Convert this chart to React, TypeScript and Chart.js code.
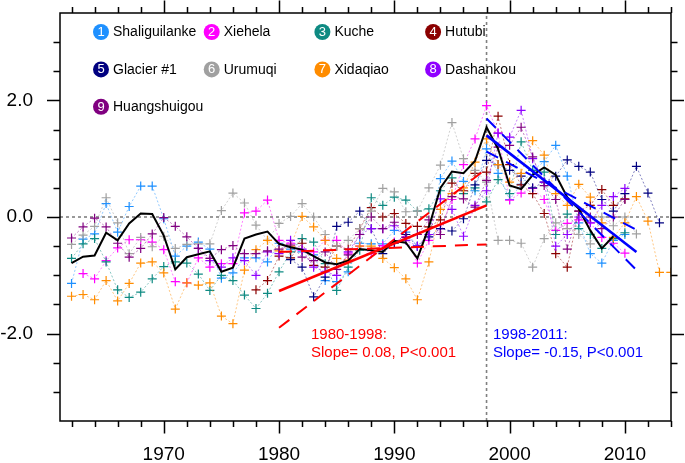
import React, { useEffect, useRef } from 'react';
import { Chart, registerables } from 'chart.js';

Chart.register(...registerables);

// ---------- data ----------
const stationNames = ['Shaliguilanke', 'Xiehela', 'Kuche', 'Hutubi', 'Glacier #1', 'Urumuqi', 'Xidaqiao', 'Dashankou', 'Huangshuigou'];
const stationColors = ['#1E90FF', '#FF00FF', '#0E8A82', '#8B0000', '#000080', '#A0A0A0', '#FF8C00', '#8F00FF', '#800080'];
const stationStartYears = [1962, 1963, 1962, 1978, 1981, 1962, 1962, 1973, 1962];

const shaliguilanke = [-1.14, -0.38, -0.29, 0.23, -0.26, 0.18, 0.53, 0.53, -0.03, -0.67, -0.5, -0.43, -0.55, -1.05, -0.96, -0.7, -0.7, -0.77, -0.45, -0.55, -0.6, -0.65, -1.09, -1.11, -0.94, -0.45, -0.46, -0.46, -0.23, -0.26, -0.5, -0.3, 0.66, 0.96, 0.61, 0.45, 1.17, 0.75, 0.3, 0.56, 0.8, 0.95, 1.23, 0.7, -0.1, -0.63, -0.79, -0.4, -0.3];
const xiehela = [-0.97, -1.06, -0.75, -0.53, -0.39, -0.39, -0.43, -0.56, -1.11, -1.13, -0.7, -0.86, -0.8, -0.8, 0.07, 0.1, 0.29, -0.4, -0.45, -0.57, -0.6, -0.4, -0.4, -0.62, -0.5, -0.63, -0.49, -0.43, -0.34, -0.79, -0.4, -0.2, 0.3, 0.9, 1.34, 1.91, 1.44, 0.29, 0.41, 0.49, 0.3, -0.23, -0.11, -0.05, -0.1, -0.35, -0.45, -0.62];
const kuche = [-0.71, -0.46, -0.37, -0.77, -1.25, -1.38, -1.29, -1.06, -0.85, -0.77, -0.79, -0.98, -1.26, -1.0, -1.09, -1.34, -1.57, -1.31, -0.94, -0.6, -0.37, -0.43, -0.8, -1.26, -0.86, -0.57, 0.33, 0.2, 0.34, 0.29, 0.1, 0.14, 0.45, 0.67, 0.4, 0.5, 0.26, 0.64, 0.4, 1.29, 0.8, 0.77, -0.3, 0.05, -0.2, -0.3, -0.54, -0.37, -0.27];
const hutubi = [-1.25, -1.09, -0.67, -0.7, -0.45, -0.83, -0.86, -0.5, -0.55, -0.2, 0.16, 0.0, 0.06, -0.11, -0.16, -0.17, -0.05, 0.58, 0.45, 0.75, 0.77, 1.73, 0.9, 0.55, 0.4, 0.06, -0.63, -0.86, 0.1, 0.2, 0.47, 0.2, 0.31];
const glacier1 = [-0.73, -0.86, -1.37, -1.03, -0.16, -0.09, 0.1, -0.2, -0.63, -0.45, -0.3, -0.5, -0.34, -0.2, -0.24, -0.03, 0.55, 0.97, 0.9, 0.8, 0.7, 0.5, 0.6, 0.7, 0.98, 0.87, 0.77, 0.3, 0.1, 0.4, 0.87, 0.41, -0.1];
const urumuqi = [-0.47, -0.31, -0.16, 0.33, -0.1, -0.63, -0.35, -0.51, -0.33, -0.54, -0.47, -0.46, -0.46, 0.11, 0.41, 0.24, -0.14, -0.4, -0.11, 0.01, 0.23, 0.0, -0.3, -0.5, -0.4, -0.2, 0.1, 0.49, 0.43, 0.09, 0.1, 0.5, 0.89, 1.62, 1.0, 0.8, 0.6, -0.4, -0.4, -0.45, -0.86, -0.37, -0.1, -0.2, -0.3, -0.46, 0.0, -0.15, 0.0, -0.29];
const xidaqiao = [-1.36, -1.33, -1.42, -1.09, -1.44, -1.14, -0.79, -0.77, -0.96, -1.58, -1.13, -1.17, -1.13, -1.7, -1.83, -0.91, -0.56, -0.4, -0.58, -0.5, 0.01, -0.17, -0.4, -0.71, -0.74, -0.5, -0.5, -0.71, -0.87, -1.06, -1.42, -0.77, 0.13, 0.4, 0.5, 0.94, 1.34, 0.9, 0.6, 0.75, 1.31, 1.06, 0.4, 0.2, 0.56, 0.34, -0.1, -0.35, -0.1, 0.35, -0.07, -0.95, -0.95];
const dashankou = [-0.54, -0.75, -0.86, -0.7, -0.75, -1.0, -0.6, -0.63, -0.4, -0.55, -0.86, -0.94, -1.0, -0.6, -0.3, -0.2, -0.2, -0.15, -0.4, -0.5, -0.3, 0.31, 0.13, -0.33, 0.2, 0.45, 1.44, 1.37, 1.83, 1.0, 0.6, -0.5, -0.3, 0.0, -0.1, 0.2, 0.35, 0.49];
const huangshuigou = [-0.36, -0.17, -0.02, -0.17, -0.45, -0.69, -0.54, -0.29, -0.01, -0.16, -0.34, -0.54, -0.71, -0.56, -0.49, -0.63, -0.63, -0.58, -0.55, -0.48, -0.69, -0.75, -0.6, -0.9, -0.65, -0.3, 0.0, -0.2, -0.09, -0.35, -0.3, -0.05, -0.3, 0.35, 0.31, 0.17, 0.63, 1.2, 1.23, 1.54, 1.03, 0.54, 0.3, -0.55, 0.1, 0.0, -0.2, 0.0, 0.3];
const stationSeries = [shaliguilanke, xiehela, kuche, hutubi, glacier1, urumuqi, xidaqiao, dashankou, huangshuigou];

const meanStartYear = 1962;
const meanSeries = [-0.79, -0.68, -0.66, -0.27, -0.4, -0.11, 0.06, 0.05, -0.32, -0.9, -0.69, -0.64, -0.59, -0.94, -0.87, -0.37, -0.3, -0.25, -0.46, -0.52, -0.56, -0.67, -0.78, -0.81, -0.75, -0.55, -0.57, -0.6, -0.41, -0.44, -0.71, -0.17, 0.5, 0.78, 0.75, 0.96, 1.54, 1.17, 0.54, 0.48, 0.72, 0.85, 0.72, 0.34, 0.14, -0.23, -0.54, -0.33];

const redYears = [1980, 1998];
const redTrend = [-1.27, 0.2];
const redUpper = [-1.9, 0.83];
const redLower = [-0.6, -0.47];
const blueYears = [1998, 2011];
const blueTrend = [1.4, -0.6];
const blueSteep = [1.69, -0.91];
const blueFlat = [1.12, -0.22];

const zeroLineYears = [1961, 2014];
const breakYear = 1998;

const xMin = 1961, xMax = 2014;
const yMin = -3.5, yMax = 3.5;
const xTickValues = [1970, 1980, 1990, 2000, 2010];
const yTickValues = [-2, 0, 2];

const redNote = ['1980-1998:', 'Slope= 0.08, P<0.001'];
const blueNote = ['1998-2011:', 'Slope= -0.15, P<0.001'];

// ---------- helpers ----------
const FONT = "'Liberation Sans', Arial, Helvetica, sans-serif";

function toPoints(start: number, values: number[]) {
  return values.map((v, i) => ({ x: start + i, y: v }));
}
function pairPoints(xs: number[], ys: number[]) {
  return xs.map((x, i) => ({ x, y: ys[i] }));
}
function alpha(hex: string, a: number) {
  const n = parseInt(hex.slice(1), 16);
  return `rgba(${(n >> 16) & 255},${(n >> 8) & 255},${n & 255},${a})`;
}

const framePlugin = {
  id: 'frameTicks',
  afterDatasetsDraw(chart: any) {
    const { ctx, chartArea: a, scales } = chart;
    const xs = scales.x, ys = scales.y;
    ctx.save();
    ctx.strokeStyle = '#000';
    ctx.lineWidth = 1.5;
    ctx.strokeRect(a.left, a.top, a.right - a.left, a.bottom - a.top);
    ctx.beginPath();
    for (let yr = 1962; yr <= xMax; yr += 2) {
      const px = Math.round(xs.getPixelForValue(yr)) + 0.5;
      const len = yr % 10 === 0 ? 12.5 : 6;
      ctx.moveTo(px, a.bottom); ctx.lineTo(px, a.bottom + len);
      ctx.moveTo(px, a.top); ctx.lineTo(px, a.top - len);
    }
    for (let v = -3; v <= 3.001; v += 0.5) {
      const py = Math.round(ys.getPixelForValue(v)) + 0.5;
      const major = Math.abs(v % 2) < 1e-6;
      const len = major ? 13 : 6.5;
      ctx.moveTo(a.left, py); ctx.lineTo(a.left - len, py);
      ctx.moveTo(a.right, py); ctx.lineTo(a.right + len, py);
    }
    ctx.stroke();
    ctx.restore();
  },
};

const legendPlugin = {
  id: 'stationLegend',
  afterDraw(chart: any) {
    const { ctx, chartArea: a } = chart;
    ctx.save();
    stationNames.forEach((name, i) => {
      const col = i % 4, row = Math.floor(i / 4);
      const cx = a.left + 41 + col * 110.7;
      const cy = a.top + 19 + row * 37.4;
      ctx.beginPath();
      ctx.arc(cx, cy, 8, 0, Math.PI * 2);
      ctx.fillStyle = stationColors[i];
      ctx.fill();
      ctx.fillStyle = '#fff';
      ctx.font = `13px ${FONT}`;
      ctx.textAlign = 'center';
      ctx.textBaseline = 'middle';
      ctx.fillText(String(i + 1), cx, cy + 0.5);
      ctx.fillStyle = '#000';
      ctx.font = `14px ${FONT}`;
      ctx.textAlign = 'left';
      ctx.fillText(name, cx + 12, cy + 0.5);
    });
    ctx.restore();
  },
};

const notePlugin = {
  id: 'notes',
  afterDraw(chart: any) {
    const { ctx, scales } = chart;
    const xs = scales.x, ys = scales.y;
    ctx.save();
    ctx.font = `15px ${FONT}`;
    ctx.textAlign = 'left';
    ctx.textBaseline = 'middle';
    const draw = (lines: string[], year: number, color: string) => {
      ctx.fillStyle = color;
      const x = xs.getPixelForValue(year);
      lines.forEach((t, i) => ctx.fillText(t, x, ys.getPixelForValue(-2.02 - i * 0.31)));
    };
    draw(redNote, 1982.77, '#FF0000');
    draw(blueNote, 1998.56, '#0000FF');
    ctx.restore();
  },
};

function buildDatasets() {
  const ds: any[] = [];
  const lineBase = { pointRadius: 0, tension: 0, fill: false };
  ds.push({ ...lineBase, data: pairPoints(redYears, redTrend), borderColor: '#FF0000', borderWidth: 2.6, order: 1 });
  ds.push({ ...lineBase, data: pairPoints(redYears, redUpper), borderColor: '#FF0000', borderWidth: 2, borderDash: [13, 9], order: 1 });
  ds.push({ ...lineBase, data: pairPoints(redYears, redLower), borderColor: '#FF0000', borderWidth: 2, borderDash: [13, 9], order: 1 });
  ds.push({ ...lineBase, data: pairPoints(blueYears, blueTrend), borderColor: '#0000FF', borderWidth: 2.6, order: 1 });
  ds.push({ ...lineBase, data: pairPoints(blueYears, blueSteep), borderColor: '#0000FF', borderWidth: 2, borderDash: [13, 9], order: 1 });
  ds.push({ ...lineBase, data: pairPoints(blueYears, blueFlat), borderColor: '#0000FF', borderWidth: 2, borderDash: [13, 9], order: 1 });
  ds.push({ ...lineBase, data: toPoints(meanStartYear, meanSeries), borderColor: '#000', borderWidth: 2, order: 2 });
  stationSeries.forEach((vals, i) => {
    ds.push({
      data: toPoints(stationStartYears[i], vals),
      borderColor: alpha(stationColors[i], 0.55),
      borderWidth: 0.9,
      borderDash: [2, 2],
      pointStyle: 'cross',
      pointRadius: 4.5,
      pointBorderWidth: 1.2,
      pointBorderColor: stationColors[i],
      pointBackgroundColor: stationColors[i],
      tension: 0,
      fill: false,
      order: 3 + (8 - i),
    });
  });
  ds.push({ ...lineBase, data: zeroLineYears.map((x) => ({ x, y: 0 })), borderColor: '#808080', borderWidth: 1.6, borderDash: [3, 3], order: 20 });
  ds.push({ ...lineBase, data: [{ x: breakYear, y: yMin }, { x: breakYear, y: yMax }], borderColor: '#808080', borderWidth: 1.6, borderDash: [3, 3], order: 20 });
  return ds;
}

export default function App() {
  const ref = useRef<HTMLCanvasElement>(null);
  useEffect(() => {
    document.body.style.margin = '0';
    const chart = new Chart(ref.current as HTMLCanvasElement, {
      type: 'line',
      data: { datasets: buildDatasets() },
      options: {
        responsive: false,
        animation: false,
        devicePixelRatio: 1,
        layout: { padding: { top: 13, right: 14, left: 0, bottom: 0 } },
        plugins: { legend: { display: false }, tooltip: { enabled: false } },
        scales: {
          x: {
            type: 'linear',
            min: xMin,
            max: xMax,
            afterBuildTicks: (s: any) => { s.ticks = xTickValues.map((v) => ({ value: v })); },
            afterFit: (s: any) => { s.height = 42; s.paddingLeft = 0; s.paddingRight = 0; s.paddingTop = 0; s.paddingBottom = 0; },
            grid: { display: false, drawTicks: false },
            border: { display: false },
            ticks: { font: { family: FONT, size: 19 }, color: '#000', padding: 22, maxRotation: 0, autoSkip: false, callback: (v: any) => String(v) },
          },
          y: {
            type: 'linear',
            min: yMin,
            max: yMax,
            afterBuildTicks: (s: any) => { s.ticks = yTickValues.map((v) => ({ value: v })); },
            afterFit: (s: any) => { s.width = 60; s.paddingTop = 0; s.paddingBottom = 0; s.paddingLeft = 0; s.paddingRight = 0; },
            grid: { display: false, drawTicks: false },
            border: { display: false },
            ticks: { font: { family: FONT, size: 19 }, color: '#000', padding: 27, autoSkip: false, callback: (v: any) => Number(v).toFixed(1) },
          },
        },
      } as any,
      plugins: [framePlugin, legendPlugin, notePlugin],
    });
    return () => chart.destroy();
  }, []);
  return (
    <div style={{ position: 'absolute', left: 0, top: 0 }}>
      <canvas ref={ref} width={685} height={463} style={{ display: 'block', width: 685, height: 463 }} />
    </div>
  );
}
